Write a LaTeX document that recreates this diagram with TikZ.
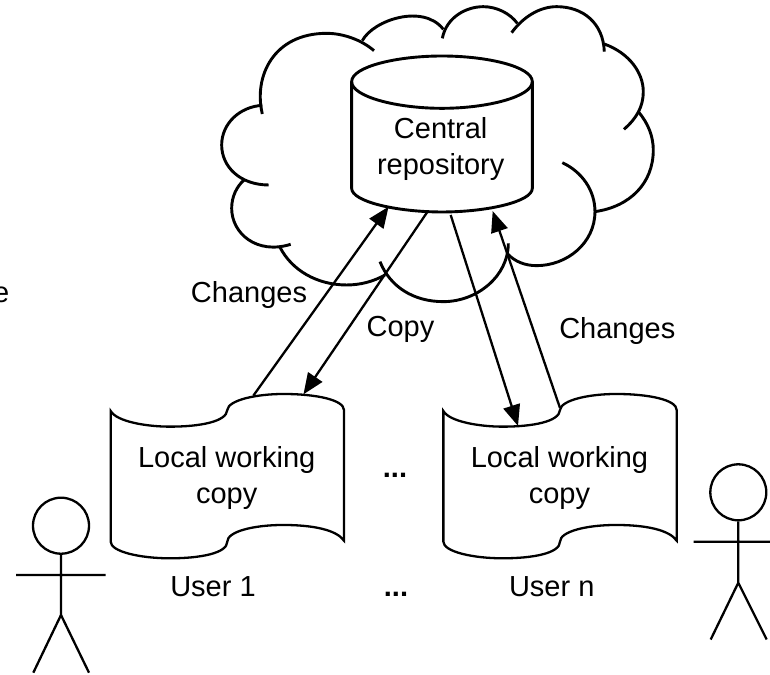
\documentclass[tikz,border=0pt]{standalone}
\usepackage{fontspec}
\setmainfont{Liberation Sans}
\usetikzlibrary{arrows.meta}
\tikzset{
  lbl/.style={font=\fontsize{29}{36}\selectfont,inner sep=0pt,align=center},
  conn/.style={line width=2.3pt,-{Triangle[length=21pt,width=17pt]},shorten >=-1pt},
  thick3/.style={line width=2.9pt,line cap=butt},
  thick2/.style={line width=2.3pt,line join=miter},
  headc/.style={circle,draw,line width=2.3pt,minimum size=56pt,inner sep=0pt},
}
\begin{document}
\begin{tikzpicture}[x=1pt,y=-1pt]
\useasboundingbox (0,0) rectangle (770,674);
% cloud
\begin{scope}[shift={(210,0)},x=0.3333pt,y=-0.3333pt,thick3]
\draw (157,342) .. controls (130,230) and (190,100) .. (350,100) .. controls (400,100) and (455,120) .. (492,152);
\draw (457,122) .. controls (490,60) and (640,10) .. (700,88);
\draw (697,115) .. controls (710,50) and (770,20) .. (820,20) .. controls (860,20) and (900,40) .. (922,70);
\draw (905,98) .. controls (940,50) and (990,20) .. (1040,20) .. controls (1120,20) and (1180,70) .. (1183,155);
\draw (1183,132) .. controls (1260,160) and (1300,220) .. (1300,275) .. controls (1300,320) and (1280,355) .. (1242,388);
\draw (1285,335) .. controls (1315,370) and (1330,410) .. (1330,450) .. controls (1330,550) and (1260,620) .. (1155,635);
\draw (1057,488) .. controls (1115,515) and (1155,570) .. (1155,635) .. controls (1155,730) and (1070,797) .. (980,797) .. controls (945,797) and (915,785) .. (893,762);
\draw (895,730) .. controls (895,830) and (800,905) .. (700,905) .. controls (610,905) and (540,860) .. (510,785);
\draw (525,825) .. controls (490,845) and (450,855) .. (410,855) .. controls (320,855) and (245,810) .. (210,742);
\draw (242,733) .. controls (140,765) and (65,700) .. (65,625) .. controls (65,590) and (80,560) .. (102,540);
\draw (176,555) .. controls (90,555) and (35,500) .. (35,435) .. controls (35,370) and (90,320) .. (157,316);
% repository
\draw (425,245) .. controls (425,200) and (560,168) .. (696,168) .. controls (832,168) and (967,200) .. (967,245)
  .. controls (967,290) and (832,325) .. (696,325) .. controls (560,325) and (425,290) .. (425,245) -- cycle;
\draw (425,245) -- (425,565) .. controls (425,605) and (560,636) .. (696,636) .. controls (832,636) and (967,605) .. (967,565) -- (967,245);
\end{scope}
\node[lbl] (repo) at (440.7,149) {Central\\repository};
% documents
\foreach \n/\dx in {a/0,b/332.7}{
\begin{scope}[shift={(\dx,230)},x=0.3333pt,y=-0.3333pt]
\draw[thick2] (332,543) .. controls (350,575) and (440,590) .. (510,590) .. controls (600,590) and (680,575) .. (682,540)
 .. controls (685,510) and (770,492) .. (850,492) .. controls (950,492) and (1032,510) .. (1032,540)
 -- (1032,932) .. controls (1010,900) and (940,885) .. (850,885) .. controls (760,885) and (682,905) .. (682,935)
 .. controls (682,970) and (600,985) .. (510,985) .. controls (420,985) and (332,965) .. (332,935) -- cycle;
\end{scope}
}
\node[lbl] (doca) at (226.7,478) {Local working\\copy};
\node[lbl] (docb) at (559.4,478) {Local working\\copy};
% anchor points on outlines
\coordinate (repoIn1) at (388,207.5);
\coordinate (repoOut1) at (428,211);
\coordinate (repoOut2) at (450.7,215);
\coordinate (repoIn2) at (493,212);
\coordinate (docaOut) at (253.3,395.7);
\coordinate (docaIn) at (304,393.5);
\coordinate (docbIn) at (517.7,425);
\coordinate (docbOut) at (560,408);
\draw[conn] (docaOut) -- (repoIn1);
\draw[conn] (repoOut1) -- (docaIn);
\draw[conn] (repoOut2) -- (docbIn);
\draw[conn] (docbOut) -- (repoIn2);
% labels
\node[lbl] (chg1) at (249,295) {Changes};
\node[lbl] (chg2) at (617.3,331) {Changes};
\node[lbl] (cpy) at (400.5,329) {Copy};
\node[lbl] (u1) at (213,586.7) {User 1};
\node[lbl] (un) at (551.7,586.7) {User n};
\node[lbl,anchor=base] (dots1) at (395,477) {\textbf{...}};
\node[lbl,anchor=base] (dots2) at (396,596) {\textbf{...}};
\node[lbl,anchor=base west] (cut) at (-7,302) {e};
% user 1
\node[headc] (h1) at (61,525.7) {};
\coordinate (hip1) at (61,615);
\coordinate (la1) at (16,575);
\coordinate (ra1) at (105.7,575);
\coordinate (neck1) at (61,575);
\coordinate (lf1) at (33.3,672.7);
\coordinate (rf1) at (89,672.7);
\draw[thick2] (h1.south) -- (hip1) (la1) -- (ra1) (lf1) -- (hip1) -- (rf1);
% user n
\node[headc] (h2) at (738.3,492.3) {};
\coordinate (hip2) at (738.3,582.7);
\coordinate (la2) at (693.7,541.7);
\coordinate (ra2) at (772,541.7);
\coordinate (lf2) at (710.7,639.5);
\coordinate (rf2) at (766.7,639.5);
\draw[thick2] (h2.south) -- (hip2) (la2) -- (ra2) (lf2) -- (hip2) -- (rf2);
\end{tikzpicture}
\end{document}
